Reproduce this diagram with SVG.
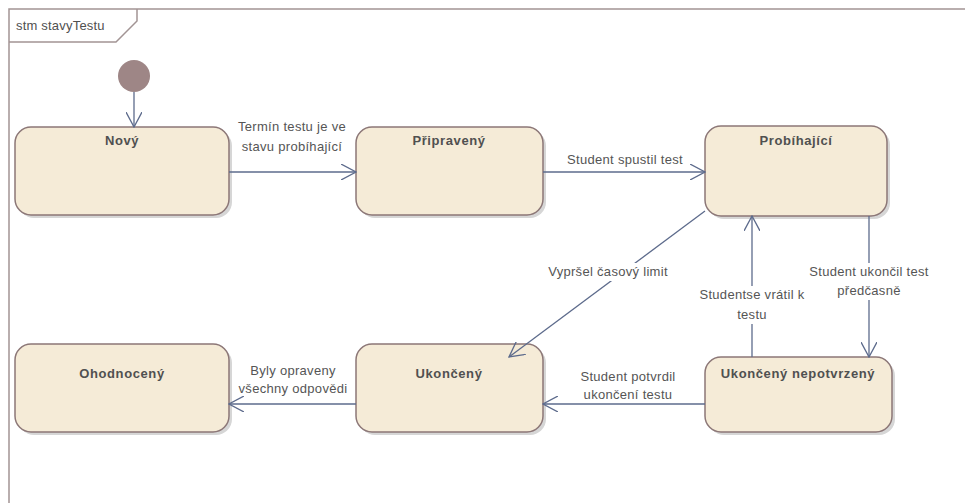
<svg xmlns="http://www.w3.org/2000/svg" width="965" height="503" viewBox="0 0 965 503">
  <style>
    .frame { fill: none; stroke: #a29494; stroke-width: 1.5; }
    .state { fill: #f5ebd7; stroke: #8c7777; stroke-width: 1.5; }
    .shadow { fill: #d6d6d6; }
    .title { font-family: "Liberation Sans", Arial, sans-serif; font-size: 13px; font-weight: bold; letter-spacing: 0.6px; fill: #505050; text-anchor: middle; }
    .lbl { font-family: "Liberation Sans", Arial, sans-serif; font-size: 13px; letter-spacing: 0.3px; fill: #555555; text-anchor: middle; }
    .lblbg { fill: #ffffff; }
    .edge { fill: none; stroke: #5d6b8c; stroke-width: 1.3; }
  </style>
  <defs>
    <marker id="open" viewBox="0 0 16 16" refX="15" refY="8" markerWidth="16" markerHeight="16" markerUnits="userSpaceOnUse" orient="auto">
      <path d="M0,0 L15,8 L0,16" fill="none" stroke="#5d6b8c" stroke-width="1.3"/>
    </marker>
  </defs>

  <rect width="965" height="503" fill="#ffffff"/>

  <!-- diagram frame with name tab -->
  <g id="frame">
    <path class="frame" d="M9,965 L9,9 L965,9"/>
    <path class="frame" d="M9,42 L116,42 L137,21 L137,9"/>
    <text x="16" y="30" font-family="Liberation Sans, Arial, sans-serif" font-size="13" letter-spacing="0.2" fill="#505050">stm stavyTestu</text>
  </g>

  <!-- initial pseudo-state -->
  <g id="initial">
    <circle cx="134" cy="76" r="16" fill="#9e8686"/>
  </g>

  <g id="novy">
    <rect class="shadow" x="18" y="130" width="214" height="88" rx="16"/>
    <rect class="state" x="15" y="127" width="214" height="88" rx="16"/>
    <text class="title" x="122" y="145">Nový</text>
  </g>

  <g id="pripraveny">
    <rect class="shadow" x="359" y="130" width="187" height="88" rx="16"/>
    <rect class="state" x="356" y="127" width="187" height="88" rx="16"/>
    <text class="title" x="449" y="145">Připravený</text>
  </g>

  <g id="probihajici">
    <rect class="shadow" x="708" y="129" width="182" height="90" rx="16"/>
    <rect class="state" x="705" y="126" width="182" height="90" rx="16"/>
    <text class="title" x="796" y="145">Probíhající</text>
  </g>

  <g id="ohodnoceny">
    <rect class="shadow" x="18" y="347" width="214" height="88" rx="16"/>
    <rect class="state" x="15" y="344" width="214" height="88" rx="16"/>
    <text class="title" x="122" y="378">Ohodnocený</text>
  </g>

  <g id="ukonceny">
    <rect class="shadow" x="359" y="347" width="187" height="88" rx="16"/>
    <rect class="state" x="356" y="344" width="187" height="88" rx="16"/>
    <text class="title" x="449" y="378">Ukončený</text>
  </g>

  <g id="ukonceny-nepotvrzeny">
    <rect class="shadow" x="708" y="360" width="187" height="75" rx="16"/>
    <rect class="state" x="705" y="357" width="187" height="75" rx="16"/>
    <text class="title" x="798" y="378">Ukončený nepotvrzený</text>
  </g>

  <!-- transitions -->
  <g id="connectors">
    <line class="edge" x1="134" y1="92" x2="134" y2="127" marker-end="url(#open)"/>

    <line class="edge" x1="229" y1="172" x2="356" y2="172" marker-end="url(#open)"/>
    <text class="lbl" x="292" y="131">Termín testu je ve</text>
    <text class="lbl" x="292" y="151">stavu probíhající</text>

    <line class="edge" x1="543" y1="172" x2="705" y2="172" marker-end="url(#open)"/>
    <text class="lbl" x="625" y="164">Student spustil test</text>

    <line class="edge" x1="705" y1="211" x2="509" y2="357" marker-end="url(#open)"/>
    <rect class="lblbg" x="552" y="263" width="112" height="18"/>
    <text class="lbl" x="608" y="276">Vypršel časový limit</text>

    <line class="edge" x1="752" y1="357" x2="752" y2="216" marker-end="url(#open)"/>
    <rect class="lblbg" x="698" y="286" width="108" height="38"/>
    <text class="lbl" x="752" y="299">Studentse vrátil k</text>
    <text class="lbl" x="752" y="319">testu</text>

    <line class="edge" x1="869" y1="216" x2="869" y2="357" marker-end="url(#open)"/>
    <rect class="lblbg" x="810" y="263" width="118" height="37"/>
    <text class="lbl" x="869" y="276">Student ukončil test</text>
    <text class="lbl" x="869" y="295">předčasně</text>

    <line class="edge" x1="705" y1="404" x2="543" y2="404" marker-end="url(#open)"/>
    <text class="lbl" x="628" y="381">Student potvrdil</text>
    <text class="lbl" x="628" y="399">ukončení testu</text>

    <line class="edge" x1="356" y1="404" x2="229" y2="404" marker-end="url(#open)"/>
    <text class="lbl" x="293" y="375">Byly opraveny</text>
    <text class="lbl" x="293" y="393">všechny odpovědi</text>
  </g>
</svg>
